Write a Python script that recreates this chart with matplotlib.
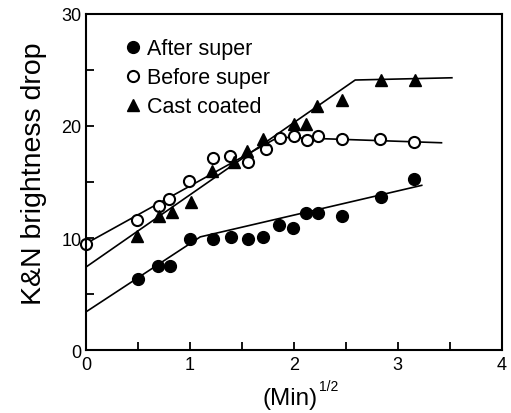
import matplotlib
matplotlib.use("Agg")
import matplotlib.pyplot as plt
from matplotlib.ticker import MultipleLocator

plt.rcParams['font.family'] = ['Liberation Sans', 'DejaVu Sans']

# Data (x = (min)^1/2, y = K&N brightness drop)
after_x = [0.50, 0.69, 0.81, 1.00, 1.22, 1.40, 1.56, 1.70, 1.86, 1.99, 2.12, 2.23, 2.46, 2.84, 3.16]
after_y = [6.3, 7.5, 7.5, 9.9, 9.9, 10.1, 9.9, 10.1, 11.2, 10.9, 12.2, 12.2, 12.0, 13.7, 15.3]

before_x = [0.0, 0.49, 0.70, 0.80, 0.99, 1.22, 1.39, 1.56, 1.73, 1.87, 2.00, 2.13, 2.23, 2.46, 2.83, 3.16]
before_y = [9.5, 11.6, 12.9, 13.5, 15.1, 17.1, 17.3, 16.8, 17.9, 18.9, 19.1, 18.75, 19.1, 18.8, 18.8, 18.6]

cast_x = [0.49, 0.70, 0.83, 1.01, 1.21, 1.42, 1.55, 1.70, 2.00, 2.12, 2.22, 2.46, 2.84, 3.17]
cast_y = [10.2, 12.0, 12.3, 13.2, 16.0, 16.8, 17.8, 18.8, 20.2, 20.2, 21.8, 22.3, 24.1, 24.1]

# fitted line segments
after_fit_x = [0, 1.10, 3.23]
after_fit_y = [3.4, 10.1, 14.7]
before_fit_x = [0, 1.85, 3.42]
before_fit_y = [9.5, 19.0, 18.5]
cast_fit_x = [0, 2.59, 3.52]
cast_fit_y = [7.4, 24.1, 24.3]

fig = plt.figure(figsize=(5.11, 4.14), dpi=100)
ax = fig.add_axes([0.168, 0.152, 0.814, 0.812])

ax.plot(after_fit_x, after_fit_y, color='black', lw=1.2)
ax.plot(before_fit_x, before_fit_y, color='black', lw=1.2)
ax.plot(cast_fit_x, cast_fit_y, color='black', lw=1.2)

ax.plot(after_x, after_y, 'o', color='black', ms=8.5, label='After super', clip_on=False)
ax.plot(before_x, before_y, 'o', mfc='white', mec='black', mew=1.5, ms=8, label='Before super', clip_on=False)
ax.plot(cast_x, cast_y, '^', color='black', ms=9, label='Cast coated', clip_on=False)

ax.set_xlim(0, 4)
ax.set_ylim(0, 30)
ax.xaxis.set_major_locator(MultipleLocator(1))
ax.xaxis.set_minor_locator(MultipleLocator(0.5))
ax.yaxis.set_major_locator(MultipleLocator(10))
ax.yaxis.set_minor_locator(MultipleLocator(5))
ax.tick_params(which='both', direction='in', length=6, width=1.3, labelsize=13,
               top=False, right=False)
ax.tick_params(axis='y', pad=3)
ax.tick_params(axis='x', pad=4)
for s in ax.spines.values():
    s.set_linewidth(1.5)

# axis labels (placed by hand so the small superscript sits like the original)
fig.text(290 / 511, 1 - 405 / 414, '(Min)', fontsize=17.5, ha='center', va='baseline')
fig.text(319 / 511, 1 - 391 / 414, '1/2', fontsize=10, ha='left', va='baseline')
fig.text(34 / 511, 1 - 174 / 414, 'K&N brightness drop', fontsize=20.5,
         rotation=90, ha='center', va='center')

ax.legend(loc='upper left', bbox_to_anchor=(0.092, 0.928), frameon=False, fontsize=15.5,
          handletextpad=0.25, labelspacing=0.38, handlelength=0.8, borderaxespad=0,
          borderpad=0)

fig.savefig('out.png', dpi=100)
